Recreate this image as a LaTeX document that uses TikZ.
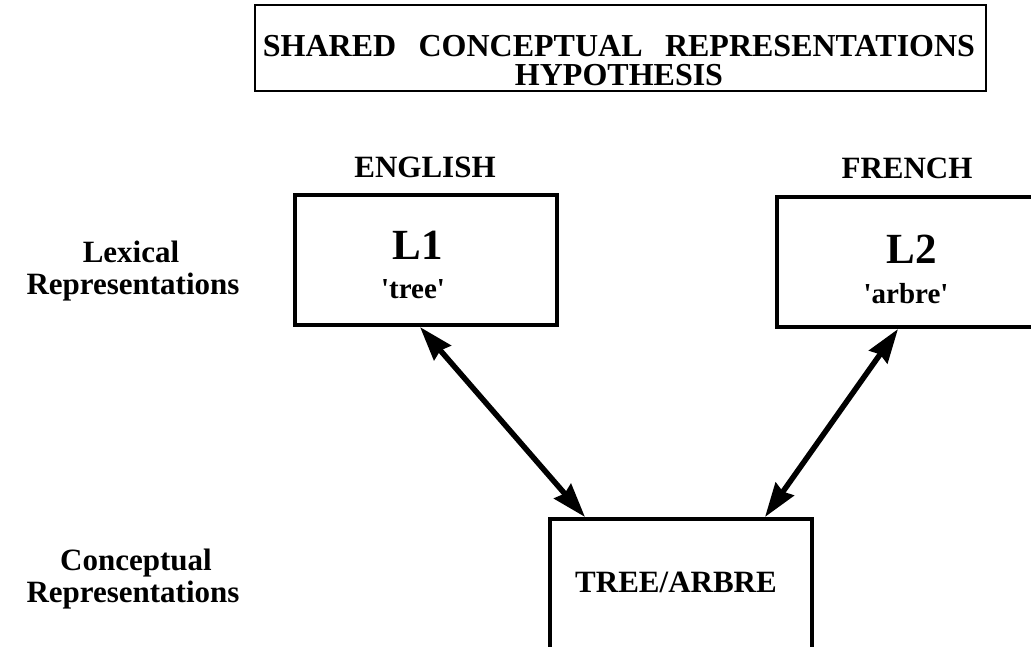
\documentclass[tikz,border=0pt]{standalone}
\usepackage{fontspec}
\setmainfont{Liberation Serif}
\usetikzlibrary{arrows.meta}
\begin{document}
\begin{tikzpicture}[x=1pt,y=-1pt,
  ttl/.style={font=\bfseries\fontsize{32}{34}\selectfont, inner sep=0pt, anchor=base},
  lbl/.style={font=\bfseries\fontsize{31}{33}\selectfont, inner sep=0pt, anchor=base},
  big/.style={font=\bfseries\fontsize{43}{45}\selectfont, inner sep=0pt, anchor=base},
  word/.style={font=\bfseries\fontsize{29}{31}\selectfont, inner sep=0pt, anchor=base},
  box/.style={draw, line width=4pt, inner sep=0pt, minimum width=262pt, minimum height=130pt},
  link/.style={line width=5.5pt, {Stealth[length=34pt,width=22pt,inset=3pt]}-{Stealth[length=34pt,width=22pt,inset=3pt]}}]
\useasboundingbox (0,0) rectangle (1031,646);
\fill[white] (0,0) rectangle (1031,646);
% title
\node[draw, line width=2.5pt, minimum width=731pt, minimum height=86pt] (title) at (620.5,48) {};
\node[ttl] (t1) at (619,56) {SHARED\hspace{0.7em}CONCEPTUAL\hspace{0.7em}REPRESENTATIONS};
\node[ttl] (t2) at (619,85) {HYPOTHESIS};
% language headers
\node[lbl] (eng) at (425,177) {ENGLISH};
\node[lbl] (fre) at (907,178) {FRENCH};
% left labels
\node[lbl] (lex1) at (131,262) {Lexical};
\node[lbl] (lex2) at (133,294) {Representations};
\node[lbl] (con1) at (136,570) {Conceptual};
\node[lbl] (con2) at (133,602) {Representations};
% boxes
\node[box] (l1) at (426,260) {};
\node[box] (l2) at (908,262) {};
\node[box] (tr) at (681,584) {};
% box texts
\node[big] (l1a) at (418,259) {L1};
\node[word] (l1b) at (413,298) {\textquotesingle tree\textquotesingle};
\node[big] (l2a) at (912,263) {L2};
\node[word] (l2b) at (906,303) {\textquotesingle arbre\textquotesingle};
\node[lbl] (tra) at (676,592) {TREE/ARBRE};
% arrow anchor points
\coordinate (p1) at ([xshift=127pt]l1.south west);
\coordinate (q1) at ([xshift=37pt]tr.north west);
\coordinate (p2) at ([xshift=123pt]l2.south west);
\coordinate (q2) at ([xshift=217pt]tr.north west);
\draw[link] (p1) -- (q1);
\draw[link] (p2) -- (q2);
\end{tikzpicture}
\end{document}
